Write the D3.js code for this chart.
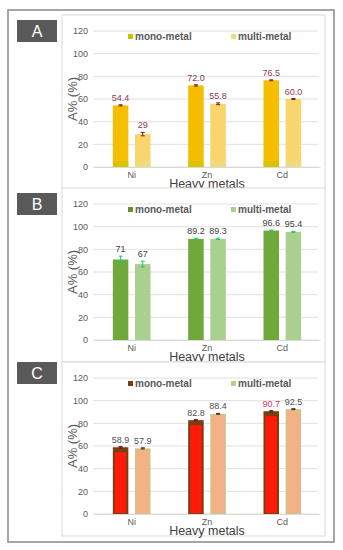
<!DOCTYPE html>
<html>
<head>
<meta charset="utf-8">
<script src="https://cdn.jsdelivr.net/npm/d3@7"></script>
<style>
  body { margin: 0; background: #fff; }
  text { font-family: "Liberation Sans", Arial, sans-serif; }
</style>
</head>
<body>
<div id="chart"></div>
<script>
const categories = ["Ni", "Zn", "Cd"];
const series = ["mono-metal", "multi-metal"];
const yTicks = [0, 20, 40, 60, 80, 100, 120];

const panelNames = ["A", "B", "C"];
const monoValues = [[54.4, 72.0, 76.5], [71, 89.2, 96.6], [58.9, 82.8, 90.7]];
const multiValues = [[29, 55.8, 60.0], [67, 89.3, 95.4], [57.9, 88.4, 92.5]];
const monoLabels = [["54.4", "72.0", "76.5"], ["71", "89.2", "96.6"], ["58.9", "82.8", "90.7"]];
const multiLabels = [["29", "55.8", "60.0"], ["67", "89.3", "95.4"], ["57.9", "88.4", "92.5"]];
const monoErrors = [[0.5, 0.6, 0.4], [3, 0.6, 0.4], [0.6, 0.5, 0.5]];
const multiErrors = [[1.5, 0.8, 0.4], [2.5, 0.6, 0.4], [0.5, 0.4, 0.4]];

// colours per panel
const barColors = [["#f5be00", "#f8d56d"], ["#70a83c", "#a9d08e"], ["#ff1a0a", "#f4b183"]];
const legendColors = [["#c8c400", "#e6e08a"], ["#5f9130", "#a9d08e"], ["#7a3e10", "#c9c58c"]];
const labelColors = [["#8e3a5c", "#8e3a5c"], ["#404040", "#404040"], ["#505050", "#505050"]];
const errColors = [["#8b1a1a", "#8b1a1a"], ["#1ec86e", "#1ec86e"], ["#6b1a1a", "#6b1a1a"]];

const W = 343, H = 550;
const svg = d3.select("#chart").append("svg")
    .attr("width", W)
    .attr("height", H);

svg.append("rect")
    .attr("x", 8).attr("y", 10)
    .attr("width", 326).attr("height", 532)
    .attr("fill", "#fff")
    .attr("stroke", "#a6a6a6")
    .attr("stroke-width", 2);

const panelTops = [15, 188, 362];
const boxTops = [20, 193, 362];

const x = d3.scaleBand()
    .domain(categories)
    .range([94, 320])
    .paddingInner(0.5)
    .paddingOuter(0.25);

const xInner = d3.scaleBand()
    .domain(series)
    .range([0, x.bandwidth()])
    .paddingInner(0.3);

panelNames.forEach((name, p) => {
    const top = panelTops[p];
    const g = svg.append("g");

    g.append("rect")
        .attr("x", 62).attr("y", top)
        .attr("width", 263).attr("height", 174)
        .attr("fill", "#fff")
        .attr("stroke", "#d9d9d9");

    g.append("rect")
        .attr("x", 17).attr("y", boxTops[p])
        .attr("width", 40).attr("height", 22)
        .attr("fill", "#595959");
    g.append("text")
        .attr("x", 37).attr("y", boxTops[p] + 17)
        .attr("text-anchor", "middle")
        .attr("fill", "#fff")
        .attr("font-size", 16)
        .text(name);

    const y = d3.scaleLinear()
        .domain([0, 120])
        .range([top + 152, top + 16]);

    g.append("g")
        .selectAll("line")
        .data(yTicks)
        .enter().append("line")
        .attr("x1", 93).attr("x2", 318)
        .attr("y1", d => y(d)).attr("y2", d => y(d))
        .attr("stroke", "#e0e0e0");

    const yAxis = g.append("g")
        .attr("transform", "translate(91,0)")
        .call(d3.axisLeft(y).tickValues(yTicks).tickSize(0).tickPadding(3));
    yAxis.select(".domain").remove();
    yAxis.selectAll("text")
        .attr("fill", "#595959")
        .attr("font-size", 9)
        .style("font-family", "'Liberation Sans', Arial, sans-serif");

    const xAxis = g.append("g")
        .attr("transform", `translate(0,${top + 152})`)
        .call(d3.axisBottom(x).tickSize(0).tickPadding(5));
    xAxis.select(".domain").attr("stroke", "#d9d9d9");
    xAxis.selectAll("text")
        .attr("fill", "#595959")
        .attr("font-size", 9)
        .style("font-family", "'Liberation Sans', Arial, sans-serif");

    g.append("text")
        .attr("x", 207).attr("y", top + 173)
        .attr("text-anchor", "middle")
        .attr("fill", "#404040")
        .attr("font-size", 12.5)
        .text("Heavy metals");

    g.append("text")
        .attr("transform", `translate(77,${top + 84}) rotate(-90)`)
        .attr("text-anchor", "middle")
        .attr("fill", "#595959")
        .attr("font-size", 13)
        .text("A% (%)");

    const rows = categories.map((c, i) => [
        { cat: c, s: series[0], k: 0, v: monoValues[p][i], lab: monoLabels[p][i], e: monoErrors[p][i] },
        { cat: c, s: series[1], k: 1, v: multiValues[p][i], lab: multiLabels[p][i], e: multiErrors[p][i] }
    ]).flat();

    const bx = d => x(d.cat) + xInner(d.s);

    if (p === 2) {
        // legend-coloured bar under an inset coloured bar
        g.selectAll(".under")
            .data(rows)
            .enter().append("rect")
            .attr("x", bx)
            .attr("y", d => y(d.v))
            .attr("width", xInner.bandwidth())
            .attr("height", d => y(0) - y(d.v))
            .attr("fill", d => legendColors[p][d.k]);
        g.selectAll(".bar")
            .data(rows)
            .enter().append("rect")
            .attr("class", "bar")
            .attr("x", d => bx(d) + (d.k === 0 ? 2 : 1.5))
            .attr("y", d => y(d.v) + (d.k === 0 ? 5 : 2))
            .attr("width", d => xInner.bandwidth() - (d.k === 0 ? 4 : 3))
            .attr("height", d => y(0) - y(d.v) - (d.k === 0 ? 6 : 3))
            .attr("fill", d => barColors[p][d.k]);
    } else {
        g.selectAll(".bar")
            .data(rows)
            .enter().append("rect")
            .attr("class", "bar")
            .attr("x", bx)
            .attr("y", d => y(d.v))
            .attr("width", xInner.bandwidth())
            .attr("height", d => y(0) - y(d.v))
            .attr("fill", d => barColors[p][d.k]);
    }

    // legend colour showing at bar base
    if (p === 0) {
        g.selectAll(".base")
            .data(rows)
            .enter().append("rect")
            .attr("x", bx)
            .attr("y", y(0) - 6)
            .attr("width", xInner.bandwidth())
            .attr("height", 6)
            .attr("fill", d => legendColors[p][d.k])
            .attr("opacity", 0.6);
    }

    const cx = d => bx(d) + xInner.bandwidth() / 2;
    const err = g.selectAll(".err")
        .data(rows)
        .enter().append("g")
        .attr("stroke", d => errColors[p][d.k])
        .attr("stroke-width", 1);
    err.append("line")
        .attr("x1", cx).attr("x2", cx)
        .attr("y1", d => y(d.v + d.e)).attr("y2", d => y(d.v - d.e));
    err.append("line")
        .attr("x1", d => cx(d) - 2).attr("x2", d => cx(d) + 2)
        .attr("y1", d => y(d.v + d.e)).attr("y2", d => y(d.v + d.e));
    err.append("line")
        .attr("x1", d => cx(d) - 2).attr("x2", d => cx(d) + 2)
        .attr("y1", d => y(d.v - d.e)).attr("y2", d => y(d.v - d.e));

    g.selectAll(".lab")
        .data(rows)
        .enter().append("text")
        .attr("x", cx)
        .attr("y", d => y(d.v + d.e) - 4)
        .attr("text-anchor", "middle")
        .attr("font-size", 9)
        .attr("fill", d => (p === 2 && d.lab === "90.7") ? "#e0306a" : labelColors[p][d.k])
        .text(d => d.lab);

    const legendX = [128, 231];
    series.forEach((s, k) => {
        g.append("rect")
            .attr("x", legendX[k]).attr("y", top + 19)
            .attr("width", 5).attr("height", 5)
            .attr("fill", legendColors[p][k]);
        g.append("text")
            .attr("x", legendX[k] + 7).attr("y", top + 25)
            .attr("font-size", 10)
            .attr("font-weight", "bold")
            .attr("fill", "#595959")
            .text(s);
    });
});
</script>
</body>
</html>
